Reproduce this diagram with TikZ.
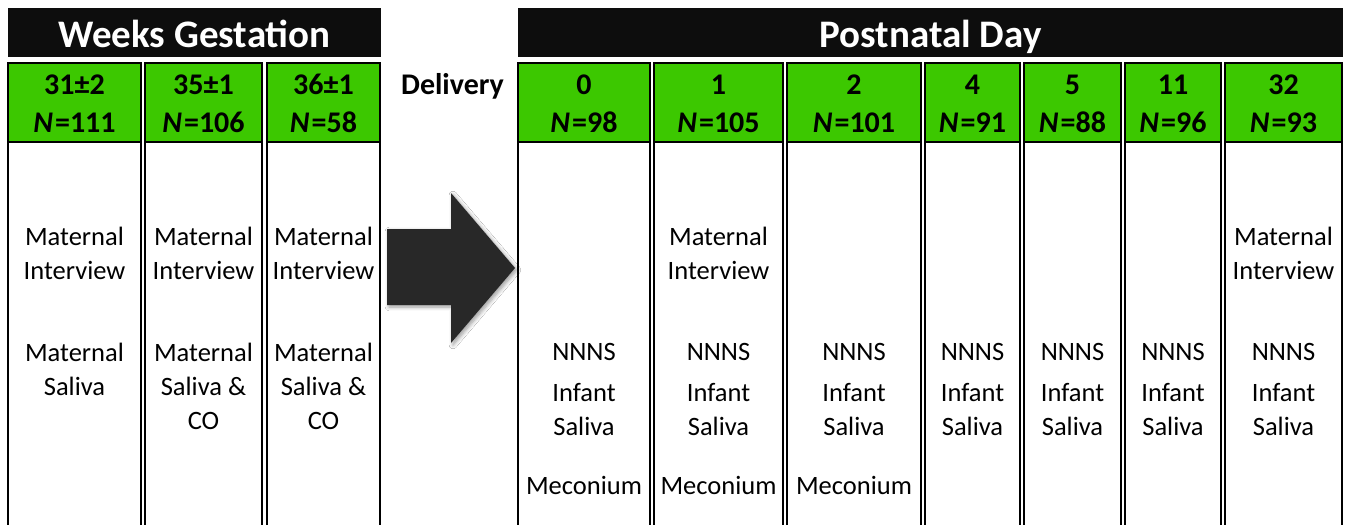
\documentclass[tikz,border=0pt]{standalone}
\usepackage{fontspec}
\setmainfont{Carlito}
\usetikzlibrary{shadows.blur}

\definecolor{bandblack}{RGB}{13,13,13}
\definecolor{daygreen}{RGB}{60,200,0}
\definecolor{arrowgray}{RGB}{40,40,40}

\newcommand{\nval}[1]{\textit{N}\kern1pt=#1}

\begin{document}
\begin{tikzpicture}[x=0.5pt,y=-0.5pt,
  bandtext/.style={text=white,font=\fontsize{19.5}{23}\selectfont\bfseries,anchor=base,inner sep=0},
  colframe/.style={draw=black,line width=1pt},
  daytext/.style={font=\fontsize{15}{19}\selectfont\bfseries,align=center,anchor=base,inner sep=0},
  celltext/.style={font=\fontsize{13.25}{17}\selectfont,align=center,anchor=base,inner sep=0}]

\useasboundingbox[fill=white] (0,0) rectangle (1351,525);

% black bands
\fill[bandblack] (8,8) rectangle (381,57);
\fill[bandblack] (518,8) rectangle (1343,57);
\node[bandtext] at (194.5,47) (weeks) {Weeks Gestation};
\node[bandtext] at (930.5,47) (postnatal) {Postnatal Day};

% columns
\foreach \l/\r in {8/141,145/262,267/380,518/650,654/783,787/921,925/1020,1024/1121,1125/1221,1225/1342}
{
  \fill[daygreen] (\l,63) rectangle (\r,142);
  \draw[colframe] (\l,530) -- (\l,63) -- (\r,63) -- (\r,530);
  \draw[colframe] (\l,142) -- (\r,142);
}

% gestation (base = last line)
\node[daytext] at (74.5,132) (g1) {31±2\\\nval{111}};
\node[daytext] at (203.5,132) (g2) {35±1\\\nval{106}};
\node[daytext] at (323.5,132) (g3) {36±1\\\nval{58}};
\node[celltext] at (74.5,279) (g1int) {Maternal\\Interview};
\node[celltext] at (203.5,279) (g2int) {Maternal\\Interview};
\node[celltext] at (323.5,279) (g3int) {Maternal\\Interview};
\node[celltext] at (74.5,395) (g1sal) {Maternal\\Saliva};
\node[celltext] at (203.5,429) (g2sal) {Maternal\\Saliva \&\\CO};
\node[celltext] at (323.5,429) (g3sal) {Maternal\\Saliva \&\\CO};

% delivery
\node[daytext] at (452.5,94) (delivery) {Delivery};
\fill[arrowgray,blur shadow={shadow xshift=1pt,shadow yshift=-1pt,shadow blur steps=6}]
  (387,229) -- (451,229) -- (451,193) -- (515,268) -- (451,343) -- (451,305) -- (387,305) -- cycle;

% postnatal days
\node[daytext] at (584,132) (d0) {0\\\nval{98}};
\node[daytext] at (718.5,132) (d1) {1\\\nval{105}};
\node[daytext] at (854,132) (d2) {2\\\nval{101}};
\node[daytext] at (972.5,132) (d4) {4\\\nval{91}};
\node[daytext] at (1072.5,132) (d5) {5\\\nval{88}};
\node[daytext] at (1173,132) (d11) {11\\\nval{96}};
\node[daytext] at (1283.5,132) (d32) {32\\\nval{93}};

\node[celltext] at (718.5,279) (d1int) {Maternal\\Interview};
\node[celltext] at (1283.5,279) (d32int) {Maternal\\Interview};

\node[celltext] at (584,360) (d0nnns) {NNNS};
\node[celltext] at (718.5,360) (d1nnns) {NNNS};
\node[celltext] at (854,360) (d2nnns) {NNNS};
\node[celltext] at (972.5,360) (d4nnns) {NNNS};
\node[celltext] at (1072.5,360) (d5nnns) {NNNS};
\node[celltext] at (1173,360) (d11nnns) {NNNS};
\node[celltext] at (1283.5,360) (d32nnns) {NNNS};

\node[celltext] at (584,435) (d0sal) {Infant\\Saliva};
\node[celltext] at (718.5,435) (d1sal) {Infant\\Saliva};
\node[celltext] at (854,435) (d2sal) {Infant\\Saliva};
\node[celltext] at (972.5,435) (d4sal) {Infant\\Saliva};
\node[celltext] at (1072.5,435) (d5sal) {Infant\\Saliva};
\node[celltext] at (1173,435) (d11sal) {Infant\\Saliva};
\node[celltext] at (1283.5,435) (d32sal) {Infant\\Saliva};

\node[celltext] at (584,494) (d0mec) {Meconium};
\node[celltext] at (718.5,494) (d1mec) {Meconium};
\node[celltext] at (854,494) (d2mec) {Meconium};

\end{tikzpicture}
\end{document}
